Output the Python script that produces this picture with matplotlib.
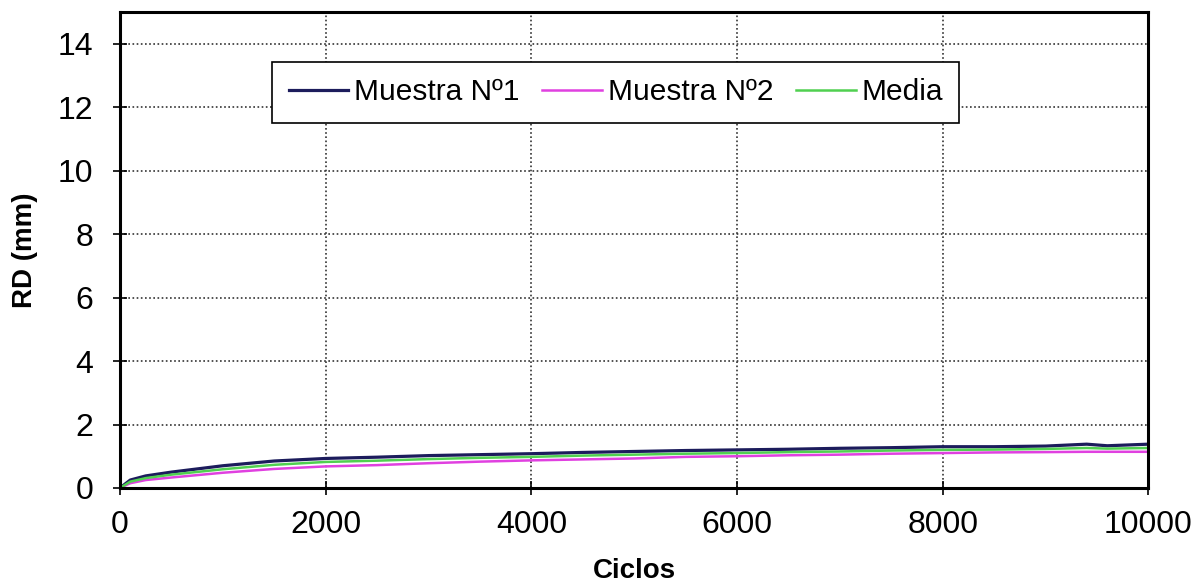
import matplotlib
matplotlib.use("Agg")
import matplotlib.pyplot as plt

plt.rcParams['font.family'] = ['Liberation Sans', 'DejaVu Sans']

ciclos = [0, 100, 250, 500, 1000, 1500, 2000, 2500, 3000, 3500, 4000, 4500, 5000,
          5500, 6000, 6500, 7000, 7500, 8000, 8500, 9000, 9400, 9600, 10000]
muestra1 = [0.0, 0.25, 0.38, 0.50, 0.70, 0.85, 0.93, 0.97, 1.02, 1.05, 1.08, 1.12, 1.15,
            1.18, 1.20, 1.22, 1.25, 1.27, 1.30, 1.30, 1.32, 1.38, 1.33, 1.38]
muestra2 = [0.0, 0.15, 0.25, 0.33, 0.48, 0.60, 0.68, 0.72, 0.78, 0.83, 0.87, 0.90, 0.93,
            0.98, 1.00, 1.03, 1.05, 1.08, 1.10, 1.12, 1.13, 1.14, 1.14, 1.14]
media = [0.0, 0.20, 0.31, 0.42, 0.59, 0.73, 0.82, 0.86, 0.91, 0.95, 0.98, 1.02, 1.05,
         1.08, 1.10, 1.13, 1.15, 1.18, 1.20, 1.21, 1.23, 1.26, 1.24, 1.26]

fig = plt.figure(figsize=(12, 5.83), dpi=100)
ax = fig.add_axes([0.100, 0.163, 0.857, 0.8165])

ax.plot(ciclos, muestra1, color='#1c1c5c', lw=2.3, label='Muestra Nº1', zorder=3)
ax.plot(ciclos, muestra2, color='#e040e0', lw=1.8, label='Muestra Nº2', zorder=3)
ax.plot(ciclos, media, color='#50d050', lw=1.8, label='Media', zorder=3)

ax.set_xlim(0, 10000)
ax.set_ylim(0, 15)
ax.set_xticks(range(0, 10001, 2000))
ax.set_yticks(range(0, 15, 2))
ax.tick_params(labelsize=23, direction='inout', length=10, width=1.2)
ax.tick_params(axis='x', pad=11)
ax.tick_params(axis='y', pad=14)
ax.grid(True, color='#333333', linestyle=(0, (1, 1.5)), linewidth=1.2)
for s in ax.spines.values():
    s.set_linewidth(2.2)
    s.set_color('black')
    s.set_zorder(4)

ax.set_xlabel('Ciclos', fontsize=20, fontweight='bold')
ax.set_ylabel('RD (mm)', fontsize=20, fontweight='bold')
ax.xaxis.set_label_coords(0.5, -0.148)
ax.yaxis.set_label_coords(-0.080, 0.5)

leg = ax.legend(ncol=3, loc='upper left', bbox_to_anchor=(0.148, 0.895), fontsize=21.5,
                frameon=True, fancybox=False, edgecolor='black', framealpha=1,
                handlelength=2.0, columnspacing=0.75, handletextpad=0.2,
                borderpad=0.55, borderaxespad=0)
leg.get_frame().set_linewidth(1.2)
leg.set_zorder(5)

fig.savefig('out.png', dpi=100)
